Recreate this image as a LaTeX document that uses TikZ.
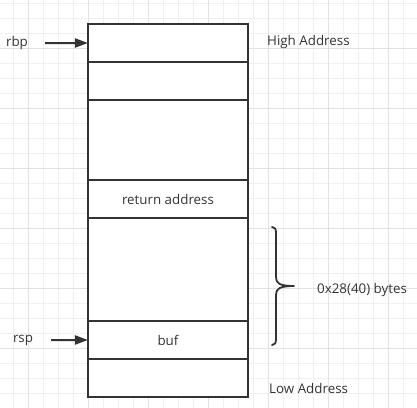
\documentclass[tikz,border=0pt]{standalone}
\usepackage{fontspec}
\setmainfont{Open Sans}
\usetikzlibrary{positioning, arrows.meta}
\definecolor{ink}{HTML}{333333}
\definecolor{gridminor}{HTML}{F0F0F0}
\definecolor{gridmajor}{HTML}{E2E2E2}

\begin{document}
\begin{tikzpicture}[x=1bp, y=-1bp, font=\fontsize{13.4}{15}\selectfont, text=ink,
    cell/.style={draw=ink, line width=2bp, fill=white, minimum width=160bp, inner sep=0pt, outer sep=0pt},
    lbl/.style={inner sep=0pt},
    ptr/.style={draw=ink, line width=2bp, -{Triangle[length=13bp,width=9bp]}},
    bracket/.style={draw=ink, line width=1.8bp, line join=round, line cap=round}]
        \useasboundingbox (0,0) rectangle (417,408);
        \foreach \x in {13,28,...,408} \draw[gridminor, line width=1bp] (\x,0) -- (\x,408);
        \foreach \y in {3,18,...,408} \draw[gridminor, line width=1bp] (0,\y) -- (417,\y);
        \foreach \x in {28,88,...,408} \draw[gridmajor, line width=1bp] (\x,0) -- (\x,408);
        \foreach \y in {48,108,...,408} \draw[gridmajor, line width=1bp] (0,\y) -- (417,\y);

        \node (c1) [cell, minimum height=38bp, anchor=north] at (168,24) {};
        \node (c2) [cell, minimum height=38bp, below=0pt of c1] {};
        \node (c3) [cell, minimum height=80bp, below=0pt of c2] {};
        \node (c4) [cell, minimum height=38bp, below=0pt of c3] {return address};
        \node (c5) [cell, minimum height=103bp, below=0pt of c4] {};
        \node (c6) [cell, minimum height=38bp, below=0pt of c5] {buf};
        \node (c7) [cell, minimum height=38bp, below=0pt of c6] {};

        \node (rbp) [lbl] at (17,43) {rbp};
        \node (rsp) [lbl] at (23,340) {rsp};
        \node (high) [lbl, anchor=west] at (267,42) {High Address};
        \node (low) [lbl, anchor=west] at (269,388) {Low Address};
        \node (size) [lbl, anchor=west] at (317,290) {0x28(40) bytes};

        \draw[ptr, shorten <=17bp] (rbp) -- (c1.west);
        \draw[ptr, shorten <=18bp] (rsp) -- (c6.west);

        \draw[bracket] (272,227) .. controls (275,227) and (276,229) .. (276,233)
            -- (276,277) .. controls (276,283) and (279,286) .. (294,286)
            .. controls (279,286) and (276,289) .. (276,295)
            -- (276,339) .. controls (276,343) and (275,345) .. (272,345);
    \end{tikzpicture}
\end{document}
